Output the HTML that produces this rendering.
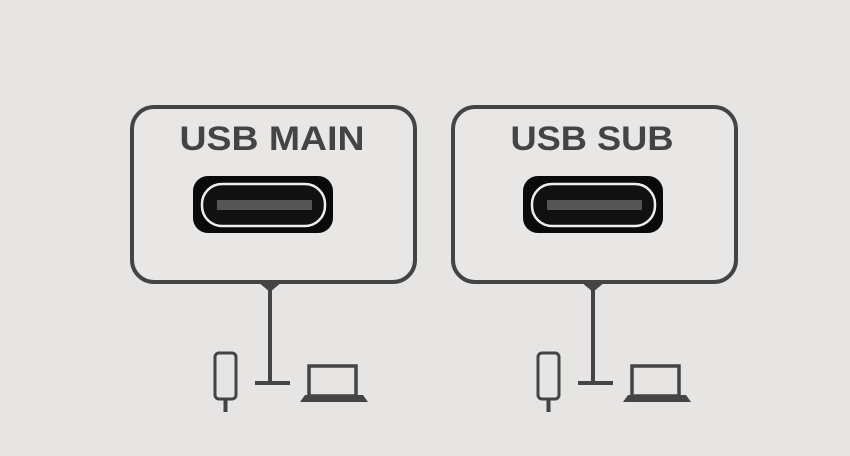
<!DOCTYPE html>
<html><head><style>
html,body{margin:0;padding:0;background:#e6e5e3;}
svg{display:block}
text{font-family:"Liberation Sans",sans-serif;font-weight:bold;fill:#444;}
</style></head><body>
<svg width="850" height="456" viewBox="0 0 850 456" xmlns="http://www.w3.org/2000/svg">
<rect width="850" height="456" fill="#e6e5e3"/>
<defs>
<g id="port">
  <rect x="0" y="0" width="140" height="57" rx="15" fill="#0a0a0a"/>
  <rect x="9" y="8" width="123" height="42" rx="20" fill="#111" stroke="#eee" stroke-width="2.5"/>
  <rect x="24" y="24" width="95" height="10" fill="#555"/>
</g>
<g id="conn">
  <polygon points="-12,0 12,0 0,10" fill="#444"/>
  <line x1="0" y1="1" x2="0" y2="101" stroke="#444" stroke-width="4"/>
  <line x1="-15" y1="101" x2="20" y2="101" stroke="#444" stroke-width="4"/>
  <rect x="-55" y="71" width="21" height="46" rx="4" fill="none" stroke="#444" stroke-width="3"/>
  <rect x="-46.5" y="118" width="4" height="12" fill="#444"/>
  <rect x="39" y="84" width="47" height="30" fill="none" stroke="#444" stroke-width="3.5"/>
  <polygon points="30,120 98,120 93,113 35,113" fill="#444"/>
</g>
</defs>
<rect x="132" y="107" width="283" height="175" rx="22" fill="#e8e7e5" stroke="#444" stroke-width="4"/>
<rect x="453" y="107" width="283" height="175" rx="22" fill="#e8e7e5" stroke="#444" stroke-width="4"/>
<g transform="translate(193,176)"><use href="#port"/></g>
<g transform="translate(523,176)"><use href="#port"/></g>
<g transform="translate(270,282)"><use href="#conn"/></g>
<g transform="translate(593,282)"><use href="#conn"/></g>
<text x="272" y="150" font-size="34" text-anchor="middle" textLength="185" lengthAdjust="spacingAndGlyphs">USB MAIN</text>
<text x="592" y="150" font-size="34" text-anchor="middle" textLength="163" lengthAdjust="spacingAndGlyphs">USB SUB</text>
</svg>
</body></html>
